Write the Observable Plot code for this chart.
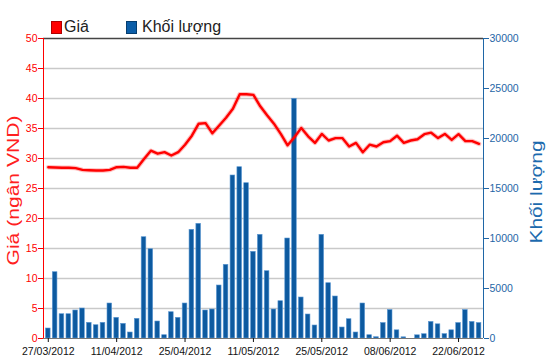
<!DOCTYPE html>
<html>
<head>
<meta charset="utf-8">
<script src="https://cdn.jsdelivr.net/npm/d3@7"></script>
<script src="https://cdn.jsdelivr.net/npm/@observablehq/plot@0.6"></script>
<style>
  body { margin: 0; background: #fff; }
  #wrap { position: relative; width: 550px; height: 364px; font-family: "Liberation Sans", Arial, sans-serif; }
  .sw { position: absolute; width: 9px; height: 11px; }
  .lt { position: absolute; font-size: 16px; line-height: 18px; color: #222; white-space: nowrap; }
</style>
</head>
<body>
<div id="wrap">
  <div class="sw" style="left:51px;top:21px;background:#ff0000;border:1px solid #b00000;"></div>
  <div class="lt" style="left:64px;top:18px;">Giá</div>
  <div class="sw" style="left:126px;top:21px;background:#0c5ea8;border:1px solid #063e70;"></div>
  <div class="lt" style="left:142px;top:18px;">Khối lượng</div>
</div>
<script>
const dates = [
  "27/03/2012","28/03/2012","29/03/2012","30/03/2012","03/04/2012","04/04/2012","05/04/2012","06/04/2012","09/04/2012","10/04/2012",
  "11/04/2012","12/04/2012","13/04/2012","16/04/2012","17/04/2012","18/04/2012","19/04/2012","20/04/2012","23/04/2012","24/04/2012",
  "25/04/2012","26/04/2012","27/04/2012","02/05/2012","03/05/2012","04/05/2012","07/05/2012","08/05/2012","09/05/2012","10/05/2012",
  "11/05/2012","14/05/2012","15/05/2012","16/05/2012","17/05/2012","18/05/2012","21/05/2012","22/05/2012","23/05/2012","24/05/2012",
  "25/05/2012","28/05/2012","29/05/2012","30/05/2012","31/05/2012","01/06/2012","04/06/2012","05/06/2012","06/06/2012","07/06/2012",
  "08/06/2012","11/06/2012","12/06/2012","13/06/2012","14/06/2012","15/06/2012","18/06/2012","19/06/2012","20/06/2012","21/06/2012",
  "22/06/2012","25/06/2012","26/06/2012","27/06/2012"
];
const price = [
  28.55,28.5,28.45,28.45,28.4,28.1,28.05,28.0,28.0,28.1,
  28.55,28.6,28.45,28.45,29.9,31.3,30.8,31.05,30.5,31.05,
  32.3,33.8,35.8,35.9,34.2,35.5,36.8,38.3,40.7,40.7,
  40.6,38.7,37.2,35.8,34.1,32.2,33.55,35.1,33.7,32.6,
  34.1,33.0,33.4,33.4,32.0,32.6,31.05,32.3,32.0,32.7,
  32.9,33.8,32.6,33.0,33.2,34.05,34.3,33.4,34.1,33.1,
  34.05,32.9,32.9,32.45
];
const volume = [
  1000,6630,2430,2430,2800,3000,1570,1330,1570,3500,
  2070,1470,600,1970,10130,8930,1700,330,2630,2070,
  3500,10870,11470,2800,2900,5300,7370,16300,17130,15530,
  8670,10370,6730,2900,3730,10000,23970,4100,2400,1300,
  10370,5530,4200,1100,1930,600,3500,330,130,1550,
  2850,820,120,0,320,430,1660,1420,440,820,
  1550,2850,1660,1550
];
const priceTicks = [0,5,10,15,20,25,30,35,40,45,50];
const volumeTicks = [0,5000,10000,15000,20000,25000,30000];
const dateTicks = ["27/03/2012","11/04/2012","25/04/2012","11/05/2012","25/05/2012","08/06/2012","22/06/2012"];
const yLabel = "Giá (ngân VND)";
const y2Label = "Khối lượng";

const ratio = 30000 / 50;
const rows = dates.map((d, i) => ({i, date: d, price: price[i], volume: volume[i]}));
const xDomain = [-0.7, 63.65];
const red = "#ff0000";
const blue = "#1f66a6";

const chart = Plot.plot({
  width: 550,
  height: 364,
  marginLeft: 43,
  marginRight: 67,
  marginTop: 38,
  marginBottom: 26,
  style: {fontFamily: "Liberation Sans, Arial, sans-serif", fontSize: "10.5px", background: "transparent", overflow: "visible"},
  x: {type: "linear", domain: xDomain},
  y: {domain: [0, 50]},
  marks: [
    Plot.ruleY(priceTicks.filter(t => t > 0 && t < 50), {stroke: "#c9c9c9", strokeWidth: 1.6}),
    Plot.rectY(rows, {x1: d => d.i - 0.34, x2: d => d.i + 0.34, y1: 0, y2: d => d.volume / ratio, fill: "#0d5aa0", stroke: "#5f9ad4", strokeWidth: 0.6}),
    Plot.lineY(rows, {x: "i", y: "price", stroke: red, strokeWidth: 4.5, strokeOpacity: 0.25}),
    Plot.lineY(rows, {x: "i", y: "price", stroke: red, strokeWidth: 2.4}),
    Plot.ruleY([50], {stroke: "#444", strokeWidth: 1.5}),
    Plot.ruleY([0], {stroke: "#777", strokeWidth: 1}),
    Plot.ruleX([xDomain[0]], {stroke: red, strokeWidth: 1}),
    Plot.ruleX([xDomain[1]], {stroke: blue, strokeWidth: 1}),
    Plot.axisY(priceTicks, {anchor: "left", tickSize: 5, tickPadding: 1, color: red, label: null}),
    Plot.axisY(volumeTicks.map(v => v / ratio), {anchor: "right", tickSize: 5, tickPadding: 1, color: blue, label: null, tickFormat: d => String(Math.round(d * ratio))}),
    Plot.axisX(dateTicks.map(d => dates.indexOf(d)), {anchor: "bottom", tickSize: 4, tickPadding: 5, color: "#111", label: null, tickFormat: i => dates[i]}),
    Plot.text([yLabel], {frameAnchor: "left", text: d => d, rotate: -90, textAnchor: "start", dx: -30, dy: 77, fontSize: 16, fill: "#ff2020"}),
    Plot.text([y2Label], {frameAnchor: "right", text: d => d, rotate: -90, textAnchor: "start", dx: 53, dy: 55, fontSize: 16, fill: "#1c6aae"})
  ]
});

d3.select(chart).selectAll("text")
  .filter(function() { return this.textContent === yLabel; })
  .attr("textLength", 150).attr("lengthAdjust", "spacingAndGlyphs");
d3.select(chart).selectAll("text")
  .filter(function() { return this.textContent === y2Label; })
  .attr("textLength", 103).attr("lengthAdjust", "spacingAndGlyphs");

chart.style.position = "absolute";
chart.style.left = "0px";
chart.style.top = "0px";
document.getElementById("wrap").prepend(chart);
</script>
</body>
</html>
